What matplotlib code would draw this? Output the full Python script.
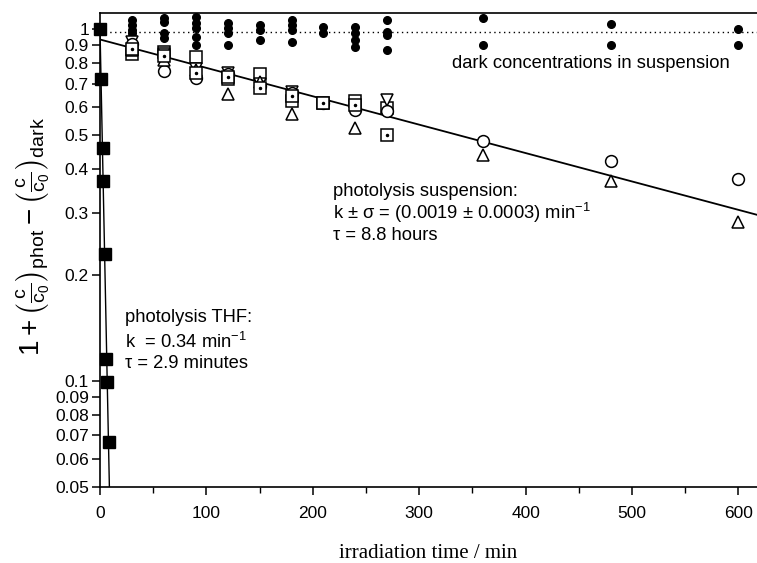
import numpy as np
import matplotlib
matplotlib.use('Agg')
import matplotlib.pyplot as plt
from matplotlib.ticker import FixedLocator, NullFormatter

plt.rcParams['font.family'] = ['Liberation Sans', 'DejaVu Sans']
plt.rcParams['mathtext.fontset'] = 'custom'
plt.rcParams['mathtext.rm'] = 'Liberation Sans'
plt.rcParams['mathtext.it'] = 'Liberation Sans:italic'

# photolysis in THF (filled squares)
thf_t = [0, 1, 2.5, 3, 4.5, 6, 7, 8]
thf_v = [1.0, 0.72, 0.46, 0.37, 0.23, 0.115, 0.099, 0.067]
thf_k = 0.34

# suspension, times of sampling
susp_t = [30, 60, 90, 120, 150, 180, 210, 240, 270, 360, 480, 600]
circle_v = [0.91, 0.76, 0.725, 0.745, 0.69, 0.66, 0.615, 0.59, 0.585, 0.48, 0.423, 0.375]
tri_up_v = [0.87, 0.82, 0.765, 0.655, 0.71, 0.575, np.nan, 0.525, np.nan, 0.44, 0.369, 0.282]
square_v = [0.85, 0.86, 0.835, 0.72, 0.745, 0.625, 0.615, 0.625, 0.595, np.nan, np.nan, np.nan]
tri_down_v = [0.92, 0.85, 0.77, 0.75, 0.70, 0.665, np.nan, np.nan, 0.63, np.nan, np.nan, np.nan]
dotsq_v = [0.88, 0.84, 0.75, 0.73, 0.68, 0.645, 0.615, 0.61, 0.50, np.nan, np.nan, np.nan]
susp_a = 0.935
susp_k = 0.00186

# dark concentrations in suspension
dark_t = [30, 30, 30, 30, 30, 60, 60, 60, 60, 90, 90, 90, 90, 90,
          120, 120, 120, 120, 150, 150, 150, 180, 180, 180, 180, 210, 210,
          240, 240, 240, 240, 270, 270, 270, 270, 360, 360, 480, 480, 600, 600]
dark_v = [1.063, 1.028, 0.995, 0.976, 0.951, 1.077, 1.049, 0.976, 0.945,
          1.084, 1.042, 1.008, 0.951, 0.902, 1.042, 1.008, 0.976, 0.902,
          1.028, 0.995, 0.932, 1.063, 1.028, 0.995, 0.92, 1.015, 0.976,
          1.015, 0.976, 0.932, 0.89, 1.063, 0.983, 0.963, 0.873,
          1.077, 0.902, 1.035, 0.902, 1.0, 0.902]
dark_level = 0.98

yticks = [0.05, 0.06, 0.07, 0.08, 0.09, 0.1, 0.2, 0.3, 0.4, 0.5, 0.6, 0.7, 0.8, 0.9, 1]
ytick_labels = ['0.05', '0.06', '0.07', '0.08', '0.09', '0.1', '0.2', '0.3', '0.4',
                '0.5', '0.6', '0.7', '0.8', '0.9', '1']

W, H = 757, 563
fig = plt.figure(figsize=(W / 100, H / 100), dpi=100)
ax = fig.add_axes([100 / W, 1 - 486.5 / H, (W - 100) / W, (486.5 - 13.3) / H])
ax.set_yscale('log')
ax.set_xlim(0, 617.5)
ax.set_ylim(0.05, 1.11)

# dark level and dark points
ax.axhline(dark_level, color='black', linestyle=(0, (1, 2.5)), linewidth=1.0, zorder=1)
ax.plot(dark_t, dark_v, 'o', color='black', markersize=5.5, zorder=2)

# fit lines
tt = np.linspace(0, 617.5, 300)
ax.plot(tt, susp_a * np.exp(-susp_k * tt), color='black', linewidth=1.3, zorder=3)
tf = np.linspace(0, 9, 200)
ax.plot(tf, np.exp(-thf_k * tf), color='black', linewidth=1.0, zorder=3)

ms = 8.5
kw = dict(linestyle='none', markerfacecolor='white', markeredgecolor='black',
          markeredgewidth=1.1, markersize=ms, zorder=4)
ax.plot(susp_t, square_v, 's', **kw)
ax.plot(susp_t, tri_down_v, 'v', **kw)
ax.plot(susp_t, circle_v, 'o', **kw)
ax.plot(susp_t, tri_up_v, '^', **kw)
ax.plot(susp_t, dotsq_v, 's', **kw)
ax.plot(susp_t, dotsq_v, '.', color='black', markersize=3, zorder=5)

ax.plot(thf_t, thf_v, 's', color='black', markersize=9, zorder=6, clip_on=False)

# axes styling
ax.spines['right'].set_visible(False)
for s in ['left', 'bottom', 'top']:
    ax.spines[s].set_linewidth(1.2)
ax.yaxis.set_major_locator(FixedLocator(yticks))
ax.set_yticklabels(ytick_labels)
ax.yaxis.set_minor_formatter(NullFormatter())
ax.yaxis.set_minor_locator(FixedLocator([]))
ax.set_xticks(range(0, 601, 100))
ax.set_xticks(range(50, 601, 100), minor=True)
ax.tick_params(axis='both', which='major', direction='out', length=6, width=1.1,
               labelsize=12.5, right=False, top=False)
ax.tick_params(axis='x', which='minor', direction='out', length=4, width=1.0, top=False)
ax.tick_params(axis='x', pad=8)
ax.tick_params(axis='y', pad=2)

ylab = (r'$1 + \left(\frac{\mathrm{c}}{\mathrm{c}_0}\right)_{\mathrm{phot}}'
        r' - \left(\frac{\mathrm{c}}{\mathrm{c}_0}\right)_{\mathrm{dark}}$')
fig.text(33 / W, 1 - 237 / H, ylab, rotation=90, fontsize=20, ha='center', va='center')
fig.text(428 / W, 1 - 553 / H, 'irradiation time / min', fontsize=15,
         family='Liberation Serif', ha='center', va='center')

def put(x, y, s):
    fig.text(x / W, 1 - y / H, s, fontsize=13.2, ha='left', va='center')

put(452, 64, 'dark concentrations in suspension')
put(333, 191, 'photolysis suspension:')
put(333, 213, 'k \u00b1 \u03c3 = (0.0019 \u00b1 0.0003) min$^{-1}$')
put(333, 235, '\u03c4 = 8.8 hours')
put(125, 318, 'photolysis THF:')
put(125, 342, 'k  = 0.34 min$^{-1}$')
put(125, 364, '\u03c4 = 2.9 minutes')

fig.savefig('out.png', dpi=100)
